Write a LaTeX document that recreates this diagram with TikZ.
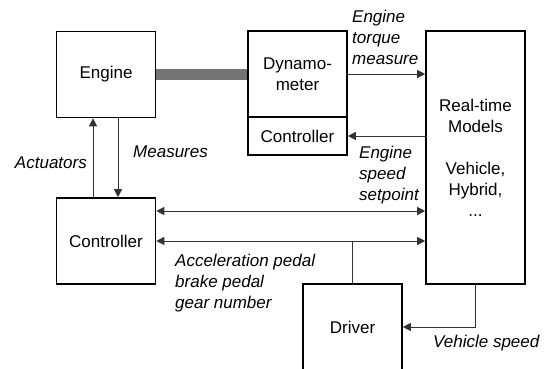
\documentclass[tikz,border=0pt]{standalone}
\usepackage{fontspec}
\setmainfont{Liberation Sans}
\usepackage{tikz}
\usetikzlibrary{calc, positioning, arrows.meta}

\begin{document}
\begin{tikzpicture}[
  x=1pt, y=-1pt,
  font=\fontsize{17}{21}\selectfont, >={Triangle[length=8pt,width=8pt]},
  blk/.style={draw, line width=1.6pt, inner sep=0pt, align=center},
  big/.style={blk, minimum width=99pt, minimum height=86pt},
  link/.style={line width=0.8pt, black!80},
  lbl/.style={font=\fontsize{17}{21}\selectfont\itshape, align=left, inner sep=0pt}]
  \clip (0,0) rectangle (551,369);
  % Blocks
  \node[big] (engine) at (106,74.5) {Engine};
  \node[big] (dyno)   at (297.5,74) {Dynamo-\\meter};
  \node[blk, minimum width=99pt, minimum height=38pt] (dctrl) at (297.5,136) {Controller};
  \node[blk, minimum width=99pt, minimum height=253pt] (rtm) at (475.5,157.5)
    {Real-time\\Models\\[21pt]Vehicle,\\Hybrid,\\...};
  \node[big] (ectrl)  at (106,241) {Controller};
  \node[big] (driver) at (352.5,327) {Driver};
  % Shaft
  \draw[line width=11pt, black!55] (engine.east) -- (engine.east -| dyno.west);
  % Engine loop
  \draw[link, ->] ([xshift=-13pt]ectrl.north) -- ([xshift=-13pt]engine.south);
  \draw[link, ->] ([xshift=12pt]engine.south) -- ([xshift=12pt]ectrl.north);
  % Dyno <-> models
  \draw[link, ->] (dyno.east) -- (dyno.east -| rtm.west);
  \draw[link, ->] (dctrl.east -| rtm.west) -- (dctrl.east);
  % Buses to controller
  \coordinate (bus1) at ([yshift=30pt]ectrl.east);
  \draw[link, <->] (bus1) -- (bus1 -| rtm.west);
  \draw[link, <->] (ectrl.east) -- (ectrl.east -| rtm.west);
  \draw[link] (driver.north) -- (driver.north |- ectrl.east);
  \draw[link, ->] (rtm.south) |- (driver.east);
  % Labels
  \node[lbl, anchor=west] (ltorque) at (352,37) {Engine\\torque\\measure};
  \node[lbl, anchor=west] (lspeed)  at (359,175) {Engine\\speed\\setpoint};
  \node[lbl, anchor=east] (lact)    at (87,163) {Actuators};
  \node[lbl, anchor=west] (lmeas)   at (133,152) {Measures};
  \node[lbl, anchor=west] (lpedal)  at (175,283) {Acceleration pedal\\brake pedal\\gear number};
  \node[lbl, anchor=west] (lvspeed) at (433,343) {Vehicle speed};
\end{tikzpicture}
\end{document}
